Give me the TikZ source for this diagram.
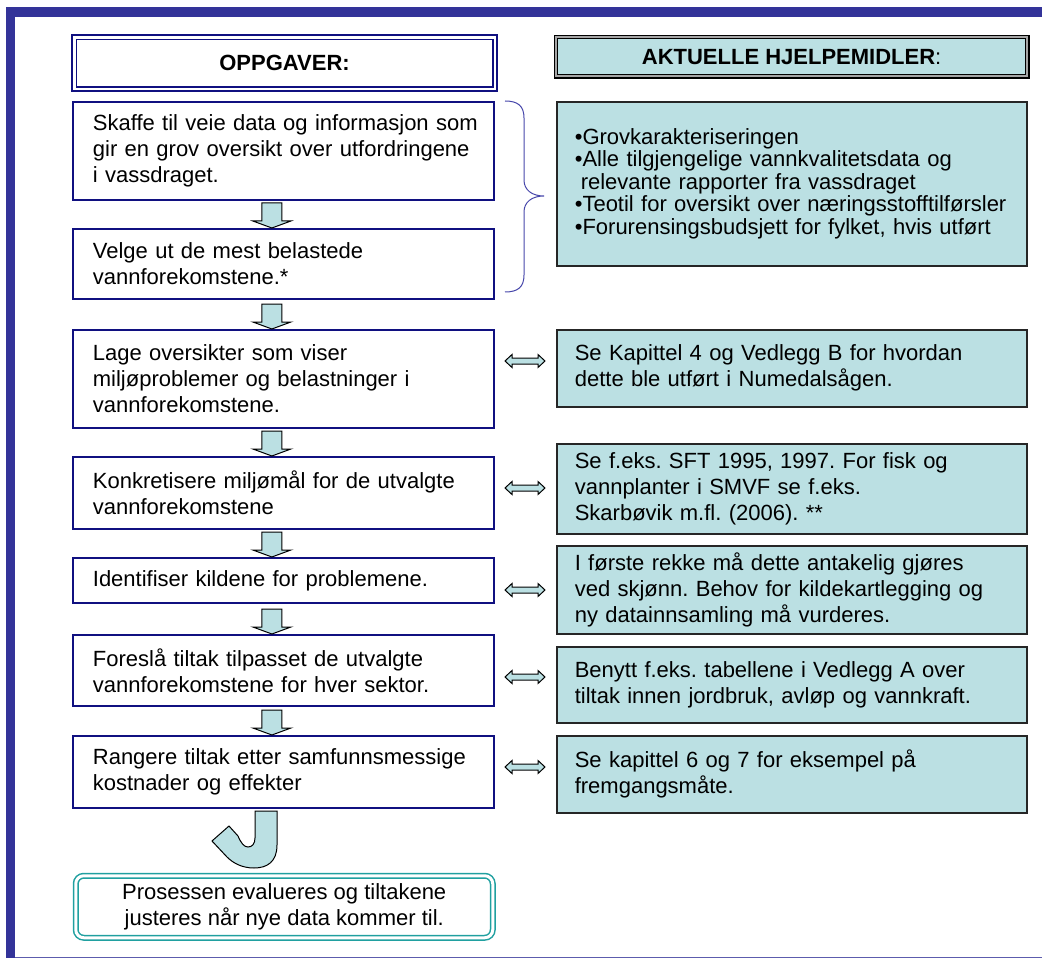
\documentclass[tikz,border=0pt]{standalone}
\usepackage{fontspec}
\setmainfont{Liberation Sans}
\usetikzlibrary{calc}
\frenchspacing
\definecolor{framec}{RGB}{51,51,153}
\definecolor{navyc}{RGB}{16,16,128}
\definecolor{cyanf}{RGB}{187,224,227}
\definecolor{tealc}{RGB}{32,160,160}
\definecolor{bracec}{RGB}{70,70,170}
\tikzset{
 lbox/.style={draw=navyc, line width=1.8pt, fill=white, anchor=north west, minimum width=421pt, text width=381pt, inner xsep=20pt, inner ysep=0pt, align=left, font=\fontsize{22}{26}\selectfont},
 rbox/.style={draw=black!85, line width=1.6pt, fill=cyanf, anchor=north west, minimum width=470pt, text width=434pt, inner xsep=18pt, inner ysep=0pt, align=left, font=\fontsize{22}{26}\selectfont},
 blockarrow/.style={draw=black, line width=1pt, fill=cyanf, line join=miter},
 downarr/.pic={\path[blockarrow] (-10,-25) -- (10,-25) -- (10,-7) -- (19,-7) -- (0,0) -- (-19,-7) -- (-10,-7) -- cycle;},
 dblarr/.pic={\path[blockarrow] (-20,0) -- (-13,-6.5) -- (-13,-3) -- (13,-3) -- (13,-6.5) -- (20,0) -- (13,6.5) -- (13,3) -- (-13,3) -- (-13,6.5) -- cycle;}
}
\begin{document}
\begin{tikzpicture}[x=1pt,y=-1pt]
\useasboundingbox (0,0) rectangle (1042,960);
% frame
\fill[framec] (6,7) rectangle (1042,17);
\fill[framec] (6,7) rectangle (15,958);
\draw[framec!80, line width=1.5pt] (15,957.5) -- (1042,957.5);

% headers
\node[anchor=north west, draw=navyc, double=white, double distance=2.5pt, line width=1.6pt, minimum width=420.5pt, minimum height=51.5pt, inner sep=0pt, font=\fontsize{22}{26}\selectfont\bfseries] (h1) at (73.5,36.5) {OPPGAVER:};
\node[anchor=north west, fill=cyanf, draw=black, double=gray!70, double distance=2pt, line width=1.2pt, minimum width=471.6pt, minimum height=39.6pt, inner sep=0pt, font=\fontsize{22}{26}\selectfont] (h2) at (555.2,36.2) {\textbf{AKTUELLE HJELPEMIDLER}:};

% left column
\node[lbox, minimum height=98pt] (b1) at (72,101) {\mbox{Skaffe til veie data og informasjon som}\\gir en grov oversikt over utfordringene\\i vassdraget.};
\node[lbox, minimum height=70pt] (b2) at (72,228) {Velge ut de mest belastede\\vannforekomstene.*};
\node[lbox, minimum height=98pt] (b3) at (72,329) {Lage oversikter som viser\\miljøproblemer og belastninger i\\vannforekomstene.};
\node[lbox, minimum height=72pt] (b4) at (72,456) {Konkretisere miljømål for de utvalgte\\vannforekomstene};
\node[lbox, minimum height=45pt] (b5) at (72,557) {Identifiser kildene for problemene.};
\node[lbox, minimum height=71pt] (b6) at (72,634) {Foreslå tiltak tilpasset de utvalgte\\vannforekomstene for hver sektor.};
\node[lbox, minimum height=72pt] (b7) at (72,735) {Rangere tiltak etter samfunnsmessige\\kostnader og effekter};
\node[anchor=north west, draw=tealc, double=white, double distance=3pt, line width=1.5pt, rounded corners=8pt, minimum width=417pt, minimum height=62pt, inner sep=0pt, align=center, font=\fontsize{22}{26}\selectfont] (b8) at (75,875) {Prosessen evalueres og tiltakene\\justeres når nye data kommer til.};

% right column
\node[rbox, minimum height=164pt, font=\fontsize{22}{22.5}\selectfont] (r1) at (556,101) {•Grovkarakteriseringen\\•Alle tilgjengelige vannkvalitetsdata og\\\hspace*{6pt}relevante rapporter fra vassdraget\\\mbox{•Teotil for oversikt over næringsstofftilførsler}\\•Forurensingsbudsjett for fylket, hvis utført};
\node[rbox, minimum height=77pt] (r2) at (556,329) {Se Kapittel 4 og Vedlegg B for hvordan\\dette ble utført i Numedalsågen.};
\node[rbox, minimum height=90pt] (r3) at (556,443) {Se f.eks. SFT 1995, 1997. For fisk og\\vannplanter i SMVF se f.eks.\\Skarbøvik m.fl. (2006). **};
\node[rbox, minimum height=88pt] (r4) at (556,545) {I første rekke må dette antakelig gjøres\\\mbox{ved skjønn. Behov for kildekartlegging og}\\ny datainnsamling må vurderes.};
\node[rbox, minimum height=76pt] (r5) at (556,646) {Benytt f.eks. tabellene i Vedlegg A over\\tiltak innen jordbruk, avløp og vannkraft.};
\node[rbox, minimum height=77pt] (r6) at (556,735) {Se kapittel 6 og 7 for eksempel på\\fremgangsmåte.};

% down arrows
\pic at ([xshift=-11.5pt]b2.north) {downarr};
\pic at ([xshift=-11.5pt]b3.north) {downarr};
\pic at ([xshift=-11.5pt]b4.north) {downarr};
\pic at ([xshift=-11.5pt]b5.north) {downarr};
\pic at ([xshift=-11.5pt]b6.north) {downarr};
\pic at ([xshift=-11.5pt]b7.north) {downarr};

% double arrows
\pic at (525,361) {dblarr};
\pic at (525,488) {dblarr};
\pic at (525,590) {dblarr};
\pic at (525,677) {dblarr};
\pic at (525,767) {dblarr};

% brace
\draw[bracec, line width=1pt] (505,101) .. controls (518,101) and (524,106) .. (524,118) -- (524,180) .. controls (524,190) and (532,196) .. (544,196) .. controls (532,196) and (524,202) .. (524,212) -- (524,275) .. controls (524,287) and (518,292) .. (505,292);

% U-turn arrow
\path[blockarrow] (255,811) -- (277,811) -- (277,845) .. controls (277,862) and (267,868) .. (254,868) .. controls (242,868) and (233,863) .. (227,857) -- (212,841) -- (229,826) -- (238,836) .. controls (241,843) and (244,847) .. (248,847) .. controls (252,847) and (255,844) .. (255,838) -- cycle;
\end{tikzpicture}
\end{document}
